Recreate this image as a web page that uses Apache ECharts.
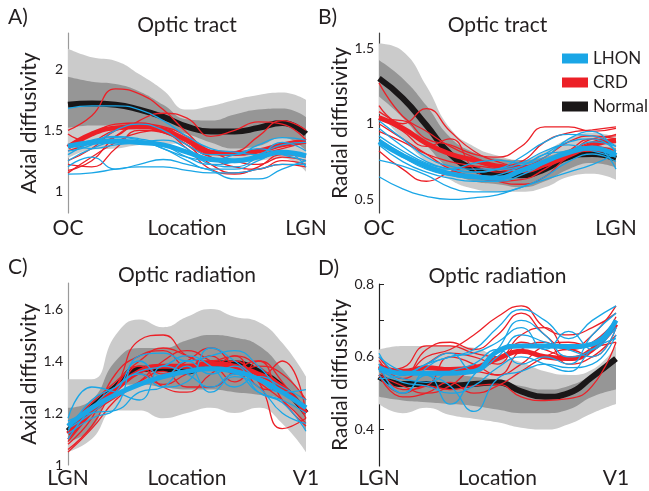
<!DOCTYPE html>
<html><head><meta charset="utf-8">
<script src="https://cdn.jsdelivr.net/npm/echarts@6/dist/echarts.min.js"></script>
<style>html,body{margin:0;padding:0;background:#fff}#c{width:649px;height:491px}</style>
</head><body><div id="c"></div>
<script>
// ---- shared ----
const nodes = [0,10,20,30,40,50,60,70,80,90,100];
const tractEnds = ['OC','LGN'];
const radEnds = ['LGN','V1'];
const groupNames = ['LHON','CRD','Normal'];

// ---- Panel A: optic tract, axial diffusivity ----
const aTicks = [1, 1.5, 2];
const aNormal = [1.71,1.72,1.71,1.67,1.61,1.53,1.49,1.49,1.52,1.56,1.47];
const aHi2 = [2.17,2.10,2.07,1.96,1.83,1.67,1.70,1.75,1.79,1.81,1.75];
const aHi1 = [1.94,1.90,1.88,1.82,1.71,1.59,1.58,1.63,1.67,1.68,1.61];
const aLo1 = [1.52,1.54,1.54,1.52,1.51,1.47,1.40,1.35,1.37,1.44,1.33];
const aLo2 = [1.27,1.34,1.35,1.38,1.39,1.39,1.28,1.23,1.25,1.27,1.16];
const aCrd = [1.36,1.47,1.52,1.53,1.50,1.42,1.32,1.31,1.33,1.38,1.41];
const aLhon = [1.37,1.40,1.41,1.40,1.38,1.32,1.26,1.25,1.28,1.32,1.29];
const aCrdSubjects = [
  [1.50,1.62,1.84,1.80,1.67,1.48,1.33,1.30,1.32,1.38,1.42],
  [1.47,1.40,1.45,1.58,1.64,1.60,1.45,1.50,1.57,1.55,1.42],
  [1.17,1.25,1.45,1.53,1.52,1.40,1.30,1.32,1.45,1.58,1.50],
  [1.25,1.35,1.50,1.55,1.53,1.45,1.33,1.25,1.22,1.28,1.25],
  [1.15,1.28,1.40,1.48,1.50,1.42,1.28,1.20,1.18,1.25,1.22],
  [1.33,1.40,1.50,1.52,1.48,1.38,1.22,1.15,1.18,1.22,1.20],
  [1.38,1.47,1.55,1.56,1.50,1.38,1.28,1.25,1.30,1.35,1.40],
  [1.22,1.20,1.35,1.50,1.48,1.35,1.18,1.14,1.20,1.30,1.28]
];
const aLhonSubjects = [
  [1.68,1.70,1.70,1.67,1.58,1.45,1.35,1.32,1.30,1.33,1.30],
  [1.14,1.15,1.18,1.20,1.20,1.17,1.15,1.15,1.18,1.22,1.22],
  [1.20,1.28,1.18,1.22,1.26,1.22,1.17,1.10,1.10,1.18,1.25],
  [1.33,1.38,1.50,1.55,1.50,1.38,1.30,1.30,1.38,1.44,1.42],
  [1.30,1.40,1.45,1.43,1.38,1.28,1.22,1.24,1.30,1.38,1.40],
  [1.25,1.35,1.40,1.40,1.35,1.25,1.18,1.18,1.25,1.33,1.20],
  [1.36,1.42,1.44,1.42,1.35,1.28,1.25,1.30,1.35,1.30,1.25],
  [1.38,1.35,1.38,1.40,1.42,1.35,1.22,1.20,1.28,1.40,1.33]
];

// ---- Panel B: optic tract, radial diffusivity ----
const bTicks = [0.5, 1, 1.5];
const bNormal = [1.30,1.17,0.99,0.80,0.70,0.67,0.66,0.70,0.78,0.80,0.77];
const bHi2 = [1.53,1.48,1.25,0.97,0.85,0.79,0.76,0.82,0.90,0.94,0.91];
const bHi1 = [1.42,1.30,1.12,0.91,0.81,0.77,0.76,0.78,0.83,0.85,0.84];
const bLo1 = [1.18,1.04,0.86,0.70,0.62,0.60,0.58,0.62,0.70,0.74,0.71];
const bLo2 = [1.07,0.90,0.75,0.63,0.57,0.55,0.55,0.58,0.65,0.67,0.63];
const bCrd = [1.04,0.97,0.87,0.80,0.76,0.72,0.71,0.73,0.79,0.86,0.89];
const bLhon = [0.88,0.79,0.72,0.67,0.65,0.64,0.69,0.75,0.81,0.84,0.79];
const bCrdSubjects = [
  [1.27,1.05,0.95,0.85,0.78,0.72,0.70,0.74,0.82,0.88,0.93],
  [1.12,1.00,1.10,0.95,0.82,0.75,0.72,0.78,0.88,0.92,0.90],
  [1.03,1.02,0.90,0.86,0.80,0.78,0.85,0.98,0.98,0.95,0.97],
  [0.82,0.70,0.62,0.68,0.72,0.70,0.68,0.72,0.82,0.90,0.88],
  [1.00,0.90,0.80,0.70,0.65,0.62,0.63,0.70,0.80,0.85,0.82],
  [1.05,0.95,0.85,0.90,0.70,0.62,0.60,0.65,0.78,0.82,0.80],
  [0.95,0.88,0.80,0.75,0.72,0.68,0.68,0.72,0.80,0.90,0.92],
  [1.08,0.98,0.88,0.80,0.75,0.72,0.75,0.88,0.94,0.96,0.98]
];
const bLhonSubjects = [
  [0.65,0.57,0.52,0.50,0.51,0.53,0.58,0.63,0.68,0.73,0.80],
  [0.76,0.72,0.66,0.58,0.55,0.55,0.58,0.65,0.75,0.80,0.75],
  [0.97,0.85,0.75,0.70,0.68,0.70,0.78,0.88,0.93,0.92,0.85],
  [0.90,0.80,0.72,0.70,0.74,0.76,0.74,0.78,0.90,0.95,0.80],
  [0.86,0.75,0.68,0.64,0.62,0.62,0.66,0.74,0.82,0.85,0.70],
  [1.02,0.90,0.78,0.72,0.70,0.70,0.72,0.80,0.82,0.88,0.85],
  [0.92,0.82,0.74,0.70,0.68,0.70,0.74,0.82,0.86,0.82,0.78],
  [0.88,0.78,0.70,0.66,0.64,0.66,0.72,0.80,0.88,0.90,0.82]
];

// ---- Panel C: optic radiation, axial diffusivity ----
const cTicks = [1, 1.2, 1.4, 1.6];
const cNormal = [1.13,1.22,1.30,1.37,1.37,1.36,1.39,1.39,1.36,1.30,1.20];
const cHi2 = [1.33,1.33,1.50,1.56,1.53,1.57,1.60,1.57,1.55,1.47,1.34];
const cHi1 = [1.22,1.25,1.40,1.45,1.45,1.48,1.50,1.49,1.46,1.37,1.25];
const cLo1 = [1.09,1.14,1.30,1.31,1.30,1.29,1.29,1.28,1.27,1.25,1.13];
const cLo2 = [1.05,1.10,1.21,1.21,1.18,1.20,1.22,1.20,1.22,1.16,1.05];
const cCrd = [1.12,1.21,1.29,1.36,1.38,1.38,1.39,1.38,1.35,1.30,1.20];
const cLhon = [1.15,1.22,1.27,1.31,1.34,1.36,1.37,1.36,1.33,1.28,1.22];
const cCrdSubjects = [
  [1.10,1.20,1.30,1.48,1.50,1.42,1.40,1.42,1.38,1.30,1.20],
  [1.06,1.15,1.30,1.38,1.35,1.40,1.45,1.38,1.32,1.14,1.18],
  [1.08,1.18,1.35,1.42,1.44,1.38,1.42,1.35,1.38,1.35,1.25],
  [1.12,1.20,1.26,1.32,1.36,1.30,1.30,1.36,1.40,1.32,1.18],
  [1.10,1.22,1.28,1.38,1.30,1.28,1.35,1.40,1.32,1.25,1.16],
  [1.15,1.24,1.32,1.40,1.45,1.42,1.38,1.42,1.30,1.28,1.22],
  [1.05,1.14,1.25,1.32,1.40,1.44,1.40,1.36,1.34,1.40,1.20],
  [1.09,1.20,1.30,1.35,1.31,1.35,1.38,1.32,1.40,1.25,1.15]
];
const cLhonSubjects = [
  [1.18,1.30,1.28,1.25,1.38,1.35,1.30,1.35,1.28,1.25,1.20],
  [1.12,1.18,1.22,1.42,1.43,1.40,1.42,1.44,1.38,1.28,1.22],
  [1.17,1.20,1.21,1.28,1.30,1.38,1.28,1.34,1.30,1.20,1.16],
  [1.10,1.22,1.30,1.35,1.30,1.32,1.45,1.40,1.33,1.28,1.29],
  [1.14,1.20,1.28,1.40,1.34,1.40,1.35,1.38,1.28,1.24,1.13],
  [1.13,1.25,1.30,1.36,1.38,1.42,1.38,1.30,1.34,1.30,1.25]
];

// ---- Panel D: optic radiation, radial diffusivity ----
const dTicks = [0.4, 0.6, 0.8];
const dTickMarks = [0.4, 0.5, 0.6, 0.7, 0.8];
const dNormal = [0.545,0.525,0.525,0.52,0.525,0.53,0.505,0.49,0.50,0.545,0.595];
const dHi2 = [0.62,0.63,0.63,0.63,0.625,0.60,0.585,0.56,0.55,0.565,0.63];
const dHi1 = [0.565,0.555,0.55,0.55,0.545,0.535,0.52,0.51,0.52,0.55,0.59];
const dLo1 = [0.49,0.48,0.475,0.47,0.465,0.455,0.445,0.445,0.455,0.49,0.51];
const dLo2 = [0.47,0.445,0.46,0.44,0.43,0.42,0.405,0.40,0.415,0.445,0.47];
const dCrd = [0.575,0.56,0.57,0.565,0.57,0.595,0.615,0.60,0.595,0.62,0.69];
const dLhon = [0.57,0.555,0.555,0.555,0.56,0.615,0.63,0.63,0.628,0.635,0.70];
const dCrdSubjects = [
  [0.55,0.50,0.52,0.51,0.52,0.525,0.49,0.48,0.485,0.52,0.64],
  [0.60,0.55,0.60,0.62,0.66,0.71,0.74,0.68,0.66,0.68,0.72],
  [0.58,0.55,0.62,0.64,0.62,0.66,0.72,0.66,0.62,0.64,0.70],
  [0.56,0.57,0.63,0.63,0.61,0.60,0.66,0.68,0.62,0.66,0.74],
  [0.55,0.49,0.50,0.53,0.50,0.52,0.56,0.60,0.62,0.60,0.68],
  [0.57,0.51,0.52,0.60,0.58,0.55,0.62,0.64,0.58,0.60,0.66],
  [0.59,0.54,0.58,0.61,0.60,0.58,0.64,0.62,0.60,0.62,0.71],
  [0.55,0.52,0.50,0.52,0.56,0.55,0.58,0.63,0.64,0.63,0.64]
];
const dLhonSubjects = [
  [0.60,0.56,0.55,0.52,0.45,0.54,0.56,0.58,0.57,0.58,0.66],
  [0.58,0.50,0.55,0.47,0.55,0.62,0.70,0.66,0.60,0.62,0.68],
  [0.61,0.55,0.58,0.60,0.62,0.68,0.73,0.70,0.65,0.70,0.74],
  [0.55,0.50,0.57,0.60,0.61,0.64,0.68,0.62,0.67,0.62,0.70],
  [0.56,0.54,0.53,0.56,0.58,0.62,0.58,0.60,0.58,0.66,0.72],
  [0.54,0.55,0.58,0.61,0.56,0.60,0.66,0.64,0.62,0.60,0.68],
  [0.57,0.53,0.52,0.50,0.52,0.57,0.60,0.58,0.56,0.62,0.65]
];

// ---- styling ----
const BLUE = '#1aa6e6', RED = '#ec2027', BLACK = '#1a1718';
const LIGHT = '#cbcbcb', DARK = '#969696';
const FONT = 'Lato';
const TXT = '#231f20';

const panels = [
  {grid:{left:68,top:33,width:238,height:180}, min:0.82, max:2.30, ticks:aTicks, tickMarks:null, axisColor:'#9a9a9a',
   name:'Axial diffusivity', ends:tractEnds, title:'Optic tract', letter:'A)',
   normal:aNormal, hi2:aHi2, hi1:aHi1, lo1:aLo1, lo2:aLo2, crd:aCrd, lhon:aLhon, crdS:aCrdSubjects, lhonS:aLhonSubjects, labMargin:5},
  {grid:{left:379,top:33,width:237,height:180}, min:0.41, max:1.60, ticks:bTicks, tickMarks:null, axisColor:'#444',
   name:'Radial diffusivity', ends:tractEnds, title:'Optic tract', letter:'B)',
   normal:bNormal, hi2:bHi2, hi1:bHi1, lo1:bLo1, lo2:bLo2, crd:bCrd, lhon:bLhon, crdS:bCrdSubjects, lhonS:bLhonSubjects, labMargin:5},
  {grid:{left:68,top:283,width:238,height:182}, min:1.0, max:1.70, ticks:cTicks, tickMarks:null, axisColor:'#9a9a9a',
   name:'Axial diffusivity', ends:radEnds, title:'Optic radiation', letter:'C)',
   normal:cNormal, hi2:cHi2, hi1:cHi1, lo1:cLo1, lo2:cLo2, crd:cCrd, lhon:cLhon, crdS:cCrdSubjects, lhonS:cLhonSubjects, labMargin:3},
  {grid:{left:379,top:284,width:237,height:182}, min:0.30, max:0.80, ticks:dTicks, tickMarks:dTickMarks, axisColor:'#222',
   name:'Radial diffusivity', ends:radEnds, title:'Optic radiation', letter:'D)',
   normal:dNormal, hi2:dHi2, hi1:dHi1, lo1:dLo1, lo2:dLo2, crd:dCrd, lhon:dLhon, crdS:dCrdSubjects, lhonS:dLhonSubjects, labMargin:2}
];

const grids = [], xAxes = [], yAxes = [], series = [], graphics = [];
const diff = (hi, lo) => hi.map((v, i) => +(v - lo[i]).toFixed(4));

panels.forEach((p, k) => {
  grids.push(Object.assign({outerBoundsMode:'none', containLabel:false}, p.grid));
  xAxes.push({
    type:'category', gridIndex:k, data:nodes, boundaryGap:false,
    axisLine:{show:false}, axisTick:{show:false}, splitLine:{show:false},
    axisLabel:{interval:0, margin:p.labMargin, fontSize:21, fontFamily:FONT, color:TXT,
      formatter:(v, i) => i === 0 ? p.ends[0] : (i === nodes.length - 1 ? p.ends[1] : '')},
    name:'Location', nameLocation:'middle', nameGap:p.labMargin, nameMoveOverlap:false,
    nameTextStyle:{fontSize:21, fontFamily:FONT, color:TXT, verticalAlign:'top'}
  });
  yAxes.push({
    type:'value', gridIndex:k, min:p.min, max:p.max,
    splitLine:{show:false},
    axisLine:{show:true, lineStyle:{color:p.axisColor, width:1.2}},
    axisTick:p.tickMarks ? {show:true, inside:true, length:5, customValues:p.tickMarks, lineStyle:{color:'#222'}} : {show:false},
    axisLabel:{customValues:p.ticks, fontSize:14, fontFamily:FONT, color:TXT, margin:5},
    name:p.name, nameLocation:'middle', nameGap:28, nameMoveOverlap:false,
    nameTextStyle:{fontSize:21, fontFamily:FONT, color:TXT}
  });
  const base = {type:'line', xAxisIndex:k, yAxisIndex:k, smooth:0.5, symbol:'none', silent:true, animation:false};
  // light band (±2 SD)
  series.push(Object.assign({}, base, {name:'band2lo'+k, stack:'l'+k, data:p.lo2, lineStyle:{opacity:0}}));
  series.push(Object.assign({}, base, {name:'band2'+k, stack:'l'+k, data:diff(p.hi2, p.lo2), lineStyle:{opacity:0}, areaStyle:{color:LIGHT, opacity:1}}));
  // dark band (±1 SD)
  series.push(Object.assign({}, base, {name:'band1lo'+k, stack:'d'+k, data:p.lo1, lineStyle:{opacity:0}}));
  series.push(Object.assign({}, base, {name:'band1'+k, stack:'d'+k, data:diff(p.hi1, p.lo1), lineStyle:{opacity:0}, areaStyle:{color:DARK, opacity:1}}));
  // normal mean
  series.push(Object.assign({}, base, {name:'Normal', data:p.normal, itemStyle:{color:BLACK}, lineStyle:{color:BLACK, width:6}}));
  p.crdS.forEach((s, j) => series.push(Object.assign({}, base, {name:'CRD '+(j+1), data:s, itemStyle:{color:RED}, lineStyle:{color:RED, width:1.3}})));
  series.push(Object.assign({}, base, {name:'CRD', data:p.crd, itemStyle:{color:RED}, lineStyle:{color:RED, width:5}}));
  p.lhonS.forEach((s, j) => series.push(Object.assign({}, base, {name:'LHON '+(j+1), data:s, itemStyle:{color:BLUE}, lineStyle:{color:BLUE, width:1.3}})));
  series.push(Object.assign({}, base, {name:'LHON', data:p.lhon, itemStyle:{color:BLUE}, lineStyle:{color:BLUE, width:5}}));
  // title and panel letter
  const cx = p.grid.left + p.grid.width / 2;
  graphics.push({type:'text', x:cx, y:p.grid.top - 8, style:{text:p.title, fill:TXT, font:'21px '+FONT, textAlign:'center', textVerticalAlign:'middle'}});
  graphics.push({type:'text', x:(k % 2 === 0 ? 8 : 318), y:p.grid.top - 16, style:{text:p.letter, fill:TXT, font:'21px '+FONT, textAlign:'left', textVerticalAlign:'middle'}});
});

const chart = echarts.init(document.getElementById('c'), null, {renderer:'canvas'});
chart.setOption({
  animation:false,
  backgroundColor:'#fff',
  grid:grids, xAxis:xAxes, yAxis:yAxes, series:series, graphic:graphics,
  legend:{data:groupNames, orient:'vertical', left:557, top:45, icon:'rect', itemWidth:26, itemHeight:10, itemGap:7,
    selectedMode:false, textStyle:{fontSize:17, fontFamily:FONT, color:TXT}}
});
</script></body></html>
